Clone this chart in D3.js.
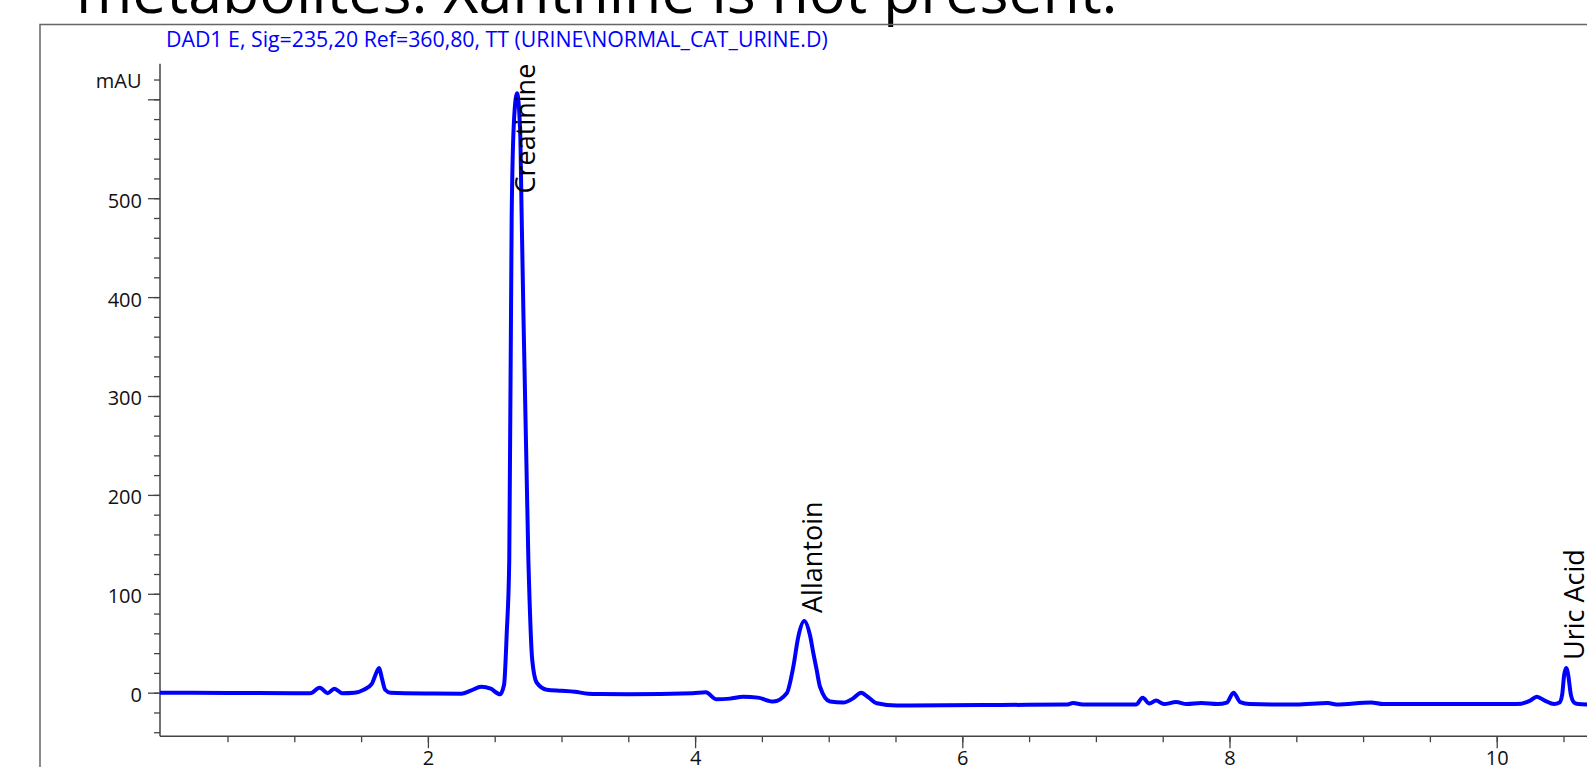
<!DOCTYPE html>
<html><head><meta charset="utf-8">
<script src="https://cdn.jsdelivr.net/npm/d3@7"></script>
<style>body{margin:0;background:#fff;overflow:hidden}</style>
</head><body><svg id="c" width="1587" height="767"></svg>
<script>
const titleText = "metabolites: Xanthine is not present.";
const signalText = "DAD1 E, Sig=235,20 Ref=360,80, TT (URINE\\NORMAL_CAT_URINE.D)";
const unitLabel = "mAU";

// retention time (min) and absorbance (mAU)
const timeMin = [0.00,0.50,1.00,1.12,1.19,1.25,1.30,1.36,1.45,1.52,1.58,1.62,1.635,1.655,1.68,1.72,2.00,2.25,2.32,2.40,2.47,2.54,2.57,2.59,2.609,2.627,2.645,2.667,2.69,2.702,2.752,2.781,2.815,2.89,3.00,3.10,3.20,3.29,3.50,3.98,4.08,4.16,4.26,4.36,4.47,4.585,4.686,4.735,4.773,4.817,4.86,4.885,4.91,4.935,5.01,5.11,5.18,5.242,5.30,5.36,5.51,6.28,6.78,6.83,6.90,7.30,7.35,7.40,7.45,7.51,7.60,7.68,7.79,7.91,7.98,8.03,8.08,8.15,8.50,8.735,8.80,9.06,9.15,9.53,10.15,10.25,10.30,10.36,10.43,10.47,10.49,10.505,10.52,10.535,10.555,10.58,10.61,10.70];
const absorbance = [0,-0.2,-0.5,-0.6,5,-0.5,4,-0.5,0,3,9,22,25,15,3,0,-0.8,-1,2,6,4,-1.6,8,60,134,481,580,606,570,481,134,33,10,3,2,1,-1,-1.3,-1.5,-0.6,0.4,-6.7,-6,-4,-5,-9,-0.6,26,57,72.5,58,40,23,6,-9,-10,-6,0,-5,-10.7,-13,-12.4,-12,-10.5,-12,-12,-5,-11,-8,-11.5,-9.5,-11.5,-10.5,-11.5,-10,0,-9.5,-11.5,-12,-10.5,-12,-9.8,-11.5,-11.5,-11.5,-8,-4,-8,-11.5,-10,-2,18,25,18,-2,-10,-11.5,-12];

const peakNames = ["Creatinine","Allantoin","Uric Acid"];
const peakTimes = [2.667, 4.817, 10.52];
const peakHeights = [606, 72.5, 25];

const xMajorTicks = [2,4,6,8,10];
const yMajorTicks = [0,100,200,300,400,500,600];
const yLabelled = [0,100,200,300,400,500];

const svg = d3.select("#c");
const FONT = "'Open Sans', sans-serif";

const x = d3.scaleLinear().domain([0, 10]).range([160.7, 1496.7]);
const y = d3.scaleLinear().domain([-44, 636]).range([736.2, 63.7]);

// title (cut at top)
const t = svg.append("text").attr("x", 76).attr("y", 13).attr("font-family", FONT)
  .attr("font-size", 56).attr("fill", "#000").text(titleText);
const tw = t.node().getComputedTextLength();
t.attr("font-size", 56 * 1042 / tw);

// frame
svg.append("rect").attr("x", 40).attr("y", 24.5).attr("width", 1700).attr("height", 900)
  .attr("fill", "none").attr("stroke", "#666").attr("stroke-width", 1.5);

// signal header
const s = svg.append("text").attr("x", 166).attr("y", 47).attr("font-family", FONT)
  .attr("font-size", 17).attr("fill", "#0000ff").text(signalText);
const sw = s.node().getComputedTextLength();
s.attr("font-size", 17 * 662 / sw);

// axes
const axisColor = "#444";
const yMinor = d3.range(-40, 621, 20);
const gyMin = svg.append("g").attr("transform", "translate(160,0)")
  .call(d3.axisLeft(y).tickValues(yMinor).tickSize(6).tickSizeOuter(0).tickFormat(""));
const gy = svg.append("g").attr("transform", "translate(160,0)")
  .call(d3.axisLeft(y).tickValues(yMajorTicks).tickSize(12).tickSizeOuter(0).tickPadding(6)
    .tickFormat(d => yLabelled.includes(d) ? d : ""));
gy.select(".domain").attr("d", `M0,${y(-44)}V${y(636)}`);
gyMin.select(".domain").remove();

const xMinor = d3.range(0.5, 11.01, 0.5);
const gxMin = svg.append("g").attr("transform", "translate(0,736.2)")
  .call(d3.axisBottom(x).tickValues(xMinor).tickSize(6).tickSizeOuter(0).tickFormat(""));
gxMin.select(".domain").remove();
const gx = svg.append("g").attr("transform", "translate(0,736.2)")
  .call(d3.axisBottom(x).tickValues(xMajorTicks).tickSize(12).tickSizeOuter(0).tickPadding(3));
gx.select(".domain").attr("d", `M160,0H1700`);

svg.selectAll(".domain").attr("stroke", axisColor).attr("stroke-width", 1.5);
svg.selectAll(".tick line").attr("stroke", axisColor).attr("stroke-width", 1.3);
svg.selectAll(".tick text").attr("font-family", FONT).attr("font-size", 20).attr("fill", "#111");
gy.selectAll(".tick text").attr("dy", "0.45em");

svg.append("text").attr("x", 141.5).attr("y", 88).attr("text-anchor", "end")
  .attr("font-family", FONT).attr("font-size", 20).attr("fill", "#111").text(unitLabel);

// trace
const pts = timeMin.map((tm, i) => [tm, absorbance[i]]);
svg.append("defs").append("clipPath").attr("id", "clip")
  .append("rect").attr("x", 160).attr("y", 30).attr("width", 1500).attr("height", 706);
svg.append("path").datum(pts)
  .attr("clip-path", "url(#clip)")
  .attr("d", d3.line().x(d => x(d[0])).y(d => y(d[1])).curve(d3.curveMonotoneX))
  .attr("fill", "none").attr("stroke", "#0000ff").attr("stroke-width", 4)
  .attr("stroke-linejoin", "round").attr("stroke-linecap", "round");

// peak labels
const yTop = y(636);
peakNames.forEach((name, i) => {
  const px = x(peakTimes[i]) + 17.5;
  const lab = svg.append("text").attr("font-family", FONT).attr("font-size", 27)
    .attr("fill", "#000").text(name);
  const len = lab.node().getComputedTextLength();
  let py = y(peakHeights[i]) - 8;
  if (py - len < yTop) py = yTop + len;
  lab.attr("transform", `translate(${px},${py}) rotate(-90)`);
});
</script>
</body></html>
